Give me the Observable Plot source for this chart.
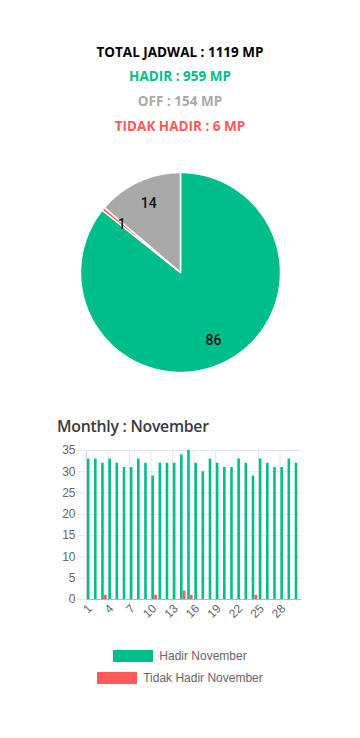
<!DOCTYPE html>
<html><head><meta charset="utf-8">
<script src="https://cdn.jsdelivr.net/npm/d3@7"></script>
<script src="https://cdn.jsdelivr.net/npm/@observablehq/plot@0.6"></script>
<style>
body{margin:0;background:#fff;}
#page{position:relative;width:360px;height:738px;overflow:hidden;font-family:"Open Sans",sans-serif;}
.hdr{position:absolute;left:0;width:360px;text-align:center;font-weight:700;font-size:13.5px;line-height:18px;white-space:nowrap;}
#pie{position:absolute;left:0;top:157px;}
#bars{position:absolute;left:0;top:440px;}
#title{position:absolute;left:57px;top:414px;font-family:"Open Sans",sans-serif;font-weight:600;font-size:15.8px;letter-spacing:-0.25px;color:#3a3a3a;line-height:24px;white-space:nowrap;}
.leg{position:absolute;left:0;width:360px;display:flex;justify-content:center;align-items:center;font-family:"Liberation Sans",Arial,sans-serif;font-size:12px;color:#666;line-height:14px;}
.leg span.box{display:inline-block;width:40px;height:12px;margin-right:6px;}
</style></head>
<body><div id="page"></div>
<script>
// ---- data ----
const summaryLabels = ["HADIR", "TIDAK HADIR", "OFF"];
const summaryValues = [959, 6, 154];
const summaryColors = ["#00be8b", "#ff5a5a", "#a9a9a9"];
const headerTextColors = ["#00be8b", "#ff5a5a", "#aaaaaa"];
const totalLabel = "TOTAL JADWAL";

const days = [1,2,3,4,5,6,7,8,9,10,11,12,13,14,15,16,17,18,19,20,21,22,23,24,25,26,27,28,29,30];
const hadir = [33,33,32,33,32,31,31,33,32,29,32,32,32,34,35,32,30,33,32,31,31,33,32,29,33,32,31,31,33,32];
const tidakHadir = [0,0,1,0,0,0,0,0,0,1,0,0,0,2,1,0,0,0,0,0,0,0,0,1,0,0,0,0,0,0];
const xTicks = [1,4,7,10,13,16,19,22,25,28];
const yTicks = [0,5,10,15,20,25,30,35];
const seriesNames = ["Hadir November", "Tidak Hadir November"];
const monthTitle = "Monthly : November";

// ---- header ----
const page = document.getElementById("page");
const total = d3.sum(summaryValues);
function addHdr(text, color, top) {
  const d = document.createElement("div");
  d.className = "hdr"; d.style.top = top + "px"; d.style.color = color; d.textContent = text;
  page.appendChild(d);
}
addHdr(`${totalLabel} : ${total} MP`, "#000", 43);
const hdrOrder = [0, 2, 1];
hdrOrder.forEach((i, k) => addHdr(`${summaryLabels[i]} : ${summaryValues[i]} MP`, headerTextColors[i], 67 + k * 25.2));

// ---- pie ----
const slices = [];
let acc = 0;
summaryValues.forEach((v, i) => {
  const a0 = acc / total * 2 * Math.PI;
  acc += v;
  const a1 = acc / total * 2 * Math.PI;
  slices.push({label: summaryLabels[i], value: v, a0, a1});
});
const piePts = [];
for (const s of slices) {
  piePts.push({label: s.label, x: 0, y: 0});
  const n = Math.max(2, Math.ceil((s.a1 - s.a0) / (Math.PI / 180)));
  for (let k = 0; k <= n; k++) {
    const a = s.a0 + (s.a1 - s.a0) * k / n;
    piePts.push({label: s.label, x: Math.sin(a), y: Math.cos(a)});
  }
  piePts.push({label: s.label, x: 0, y: 0});
}
const pieLabels = slices.map(s => {
  const m = (s.a0 + s.a1) / 2;
  return {x: 0.76 * Math.sin(m), y: 0.76 * Math.cos(m), text: String(Math.round(s.value / total * 100))};
});
const pie = Plot.plot({
  width: 360, height: 230,
  marginLeft: 80, marginRight: 80, marginTop: 15, marginBottom: 15,
  x: {domain: [-1, 1], axis: null},
  y: {domain: [-1, 1], axis: null},
  color: {domain: summaryLabels, range: summaryColors},
  style: {background: "transparent", fontFamily: "Roboto, sans-serif"},
  marks: [
    Plot.line(piePts, {x: "x", y: "y", z: "label", fill: "label", stroke: "white", strokeWidth: 1.5, strokeLinejoin: "round"}),
    Plot.text(pieLabels, {x: "x", y: "y", text: "text", fontSize: 14, fontWeight: 500, fill: "#111"})
  ]
});
pie.id = "pie";
page.appendChild(pie);

// ---- title ----
const t = document.createElement("div");
t.id = "title"; t.textContent = monthTitle; page.appendChild(t);

// ---- bars ----
const W = 360, ML = 86, MR = 59;
const bw = (W - ML - MR) / days.length;
const rowsH = days.map((d, i) => ({day: d, value: hadir[i]}));
const rowsT = days.map((d, i) => ({day: d, value: tidakHadir[i]}));
const bars = Plot.plot({
  width: W, height: 190,
  marginLeft: ML, marginRight: MR, marginTop: 10, marginBottom: 31,
  x: {type: "linear", domain: [0.5, days.length + 0.5], ticks: xTicks, tickSize: 0, tickRotate: -45, tickPadding: 7, label: null},
  y: {domain: [0, 35], ticks: yTicks, tickSize: 0, tickPadding: 11, label: null},
  style: {background: "transparent", fontFamily: "'Liberation Sans', Arial, sans-serif", fontSize: "12px", color: "#666"},
  marks: [
    Plot.ruleY(yTicks, {stroke: "#e6e6e6", insetLeft: -9}),
    Plot.ruleX(xTicks, {x: d => d - 0.5, stroke: "#e6e6e6", insetBottom: -4}),
    Plot.rectY(rowsH, {x1: d => d.day - 0.5, x2: d => d.day + 0.5, y: "value", fill: summaryColors[0], insetLeft: 0.12 * bw, insetRight: 0.52 * bw}),
    Plot.rectY(rowsT.filter(d => d.value > 0), {x1: d => d.day - 0.5, x2: d => d.day + 0.5, y: "value", fill: summaryColors[1], insetLeft: 0.52 * bw, insetRight: 0.12 * bw}),
    Plot.ruleY([0], {stroke: "#b8b8b8"}),
    Plot.ruleX([0.5], {stroke: "#d0d0d0"})
  ]
});
bars.id = "bars";
page.appendChild(bars);

// ---- legend ----
seriesNames.forEach((name, i) => {
  const d = document.createElement("div");
  d.className = "leg"; d.style.top = (649 + i * 22) + "px";
  const b = document.createElement("span"); b.className = "box"; b.style.background = summaryColors[i];
  const s = document.createElement("span"); s.textContent = name;
  d.appendChild(b); d.appendChild(s);
  page.appendChild(d);
});
</script></body></html>
